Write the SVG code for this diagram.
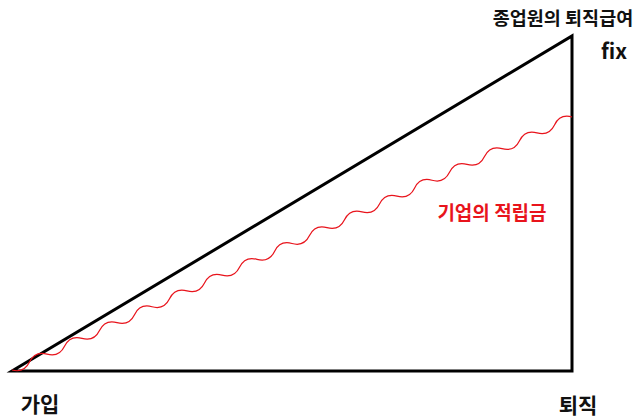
<svg xmlns="http://www.w3.org/2000/svg" width="640" height="420" viewBox="0 0 640 420">
<style>
.t{font-family:"Noto Sans CJK KR","Noto Sans",sans-serif;font-weight:bold;fill:#111}
.r{fill:#e8141c}
</style>
<rect width="640" height="420" fill="#fff"/>
<g id="connectors">
<polygon id="triangle" points="12,371 572,371 572,36" fill="none" stroke="#000" stroke-width="3" stroke-linejoin="miter"/>
<path id="wave" d="M12,370 Q24.04,373.34 29.5,362.09 T47,354.19 T64.5,346.28 T82,338.38 T99.5,330.47 T117,322.56 T134.5,314.66 T152,306.75 T169.5,298.84 T187,290.94 T204.5,283.03 T222,275.13 T239.5,267.22 T257,259.31 T274.5,251.41 T292,243.50 T309.5,235.59 T327,227.69 T344.5,219.78 T362,211.88 T379.5,203.97 T397,196.06 T414.5,188.16 T432,180.25 T449.5,172.34 T467,164.44 T484.5,156.53 T502,148.63 T519.5,140.72 T537,132.81 T554.5,124.91 T572,117" fill="none" stroke="#e8141c" stroke-width="1.2"/>
</g>
<g id="label-top"><text class="t" x="563" y="25" font-size="18.5" text-anchor="middle">종업원의 퇴직급여</text></g>
<g id="label-fix"><text class="t" x="614" y="59" font-size="21" text-anchor="middle">fix</text></g>
<g id="label-fund"><text class="t r" x="492" y="220" font-size="19" text-anchor="middle">기업의 적립금</text></g>
<g id="label-join"><text class="t" x="40" y="412" font-size="21" text-anchor="middle">가입</text></g>
<g id="label-retire"><text class="t" x="578" y="413" font-size="21" text-anchor="middle">퇴직</text></g>
</svg>
